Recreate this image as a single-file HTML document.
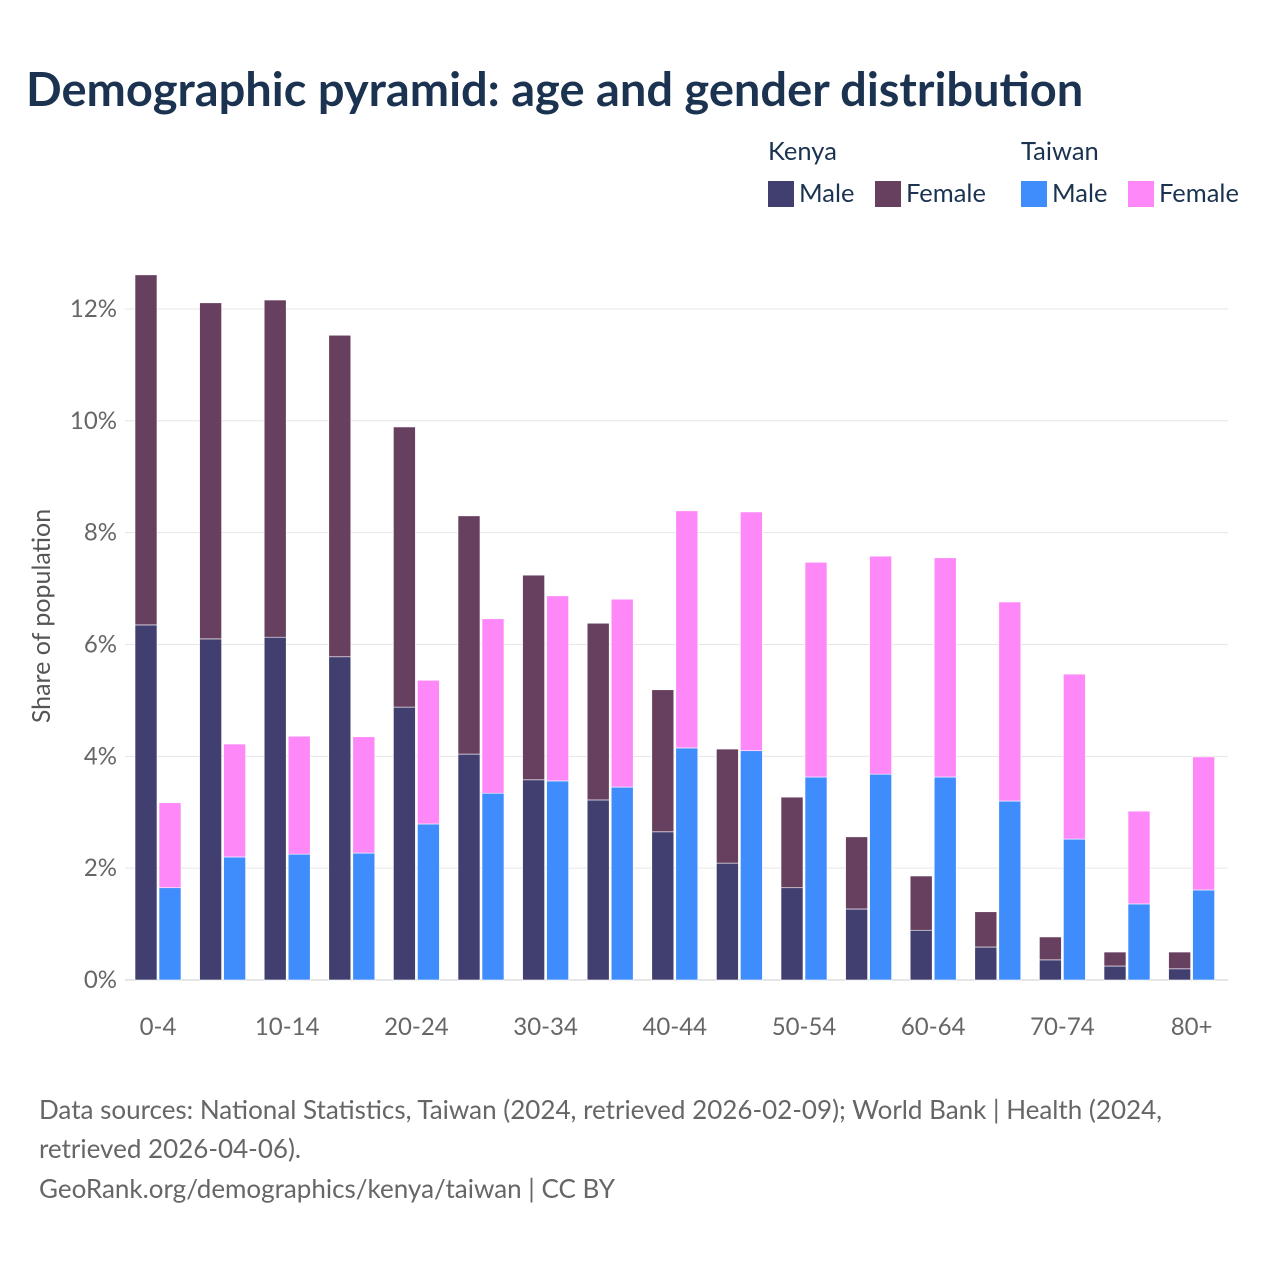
<!DOCTYPE html>
<html><head><meta charset="utf-8">
<style>
body{margin:0;background:#fff;font-family:"Liberation Sans",sans-serif;}
svg text{font-family:"Lato","Liberation Sans",sans-serif;}
</style></head>
<body>
<svg id="chart" width="1280" height="1280" xmlns="http://www.w3.org/2000/svg">
<text x="26" y="106" font-size="47" font-weight="bold" fill="#1b3350">Demographic pyramid: age and gender distribution</text>
<g font-size="25.5" fill="#1b3350">
<text x="768" y="160">Kenya</text>
<text x="1021" y="160">Taiwan</text>
<rect x="768" y="181" width="26" height="26" fill="#413f6f"/>
<text x="799" y="202">Male</text>
<rect x="875" y="181" width="26" height="26" fill="#673f5f"/>
<text x="906" y="202">Female</text>
<rect x="1021" y="181" width="26" height="26" fill="#3f8cfc"/>
<text x="1052" y="202">Male</text>
<rect x="1128" y="181" width="26" height="26" fill="#ff88f8"/>
<text x="1159" y="202">Female</text>
</g>
<text transform="translate(50,616) rotate(-90)" text-anchor="middle" font-size="25" fill="#555">Share of population</text>
<g id="grid"></g>
<g id="bars"></g>
<g id="xlabels"></g>
<g font-size="26" fill="#666">
<text x="39" y="1119">Data sources: National Statistics, Taiwan (2024, retrieved 2026-02-09); World Bank | Health (2024,</text>
<text x="39" y="1158">retrieved 2026-04-06).</text>
<text x="39" y="1198">GeoRank.org/demographics/kenya/taiwan | CC BY</text>
</g>
</svg>
<script>
const categories=["0-4","5-9","10-14","15-19","20-24","25-29","30-34","35-39","40-44","45-49","50-54","55-59","60-64","65-69","70-74","75-79","80+"];
const kenyaMale=[6.35,6.10,6.13,5.78,4.88,4.04,3.58,3.22,2.65,2.09,1.65,1.27,0.89,0.59,0.36,0.25,0.20];
const kenyaFemale=[6.26,6.01,6.03,5.75,5.01,4.26,3.66,3.16,2.54,2.04,1.62,1.29,0.97,0.63,0.41,0.25,0.30];
const taiwanMale=[1.65,2.20,2.25,2.27,2.79,3.34,3.56,3.45,4.15,4.10,3.63,3.68,3.63,3.20,2.52,1.36,1.61];
const taiwanFemale=[1.52,2.02,2.11,2.08,2.57,3.12,3.31,3.36,4.24,4.27,3.84,3.90,3.92,3.56,2.95,1.66,2.38];
const yTicks=[0,2,4,6,8,10,12];
const yTickLabels=["0%","2%","4%","6%","8%","10%","12%"];
const NS="http://www.w3.org/2000/svg";
const y0=980,pxPer=55.92;
function yScale(v){return y0-v*pxPer;}
function xCenter(i){return 158+64.6*i;}
const grid=document.getElementById('grid'),bars=document.getElementById('bars'),xl=document.getElementById('xlabels');
yTicks.forEach((t,i)=>{
 const l=document.createElementNS(NS,'line');
 l.setAttribute('x1',125);l.setAttribute('x2',1228);l.setAttribute('y1',yScale(t));l.setAttribute('y2',yScale(t));
 l.setAttribute('stroke',t===0?'#ccc':'#e6e6e6');l.setAttribute('stroke-width',1);
 
 
 grid.appendChild(l);
 const tx=document.createElementNS(NS,'text');
 tx.setAttribute('x',117);tx.setAttribute('y',yScale(t)+8);tx.setAttribute('text-anchor','end');
 tx.setAttribute('font-size',24);tx.setAttribute('fill','#666');tx.textContent=yTickLabels[i];
 
 
 grid.appendChild(tx);
});
function bar(x,v0,v1,color,name){
 const r=document.createElementNS(NS,'rect');
 r.setAttribute('x',x);r.setAttribute('width',22);
 r.setAttribute('y',yScale(v1));r.setAttribute('height',yScale(v0)-yScale(v1));
 r.setAttribute('fill',color);r.setAttribute('stroke','#fff');r.setAttribute('stroke-width',0.6);
 
 
 bars.appendChild(r);
}
categories.forEach((c,i)=>{
 const cx=xCenter(i);
 bar(cx-23,0,kenyaMale[i],'#413f6f','bar-kenya-male');
 bar(cx-23,kenyaMale[i],kenyaMale[i]+kenyaFemale[i],'#673f5f','bar-kenya-female');
 bar(cx+1,0,taiwanMale[i],'#3f8cfc','bar-taiwan-male');
 bar(cx+1,taiwanMale[i],taiwanMale[i]+taiwanFemale[i],'#ff88f8','bar-taiwan-female');
 if(i%2===0){
  const t=document.createElementNS(NS,'text');
  t.setAttribute('x',cx);t.setAttribute('y',1035);t.setAttribute('text-anchor','middle');
  t.setAttribute('font-size',24);t.setAttribute('fill','#666');t.textContent=c;
  
  
  xl.appendChild(t);
 }
});
</script>
</body></html>
